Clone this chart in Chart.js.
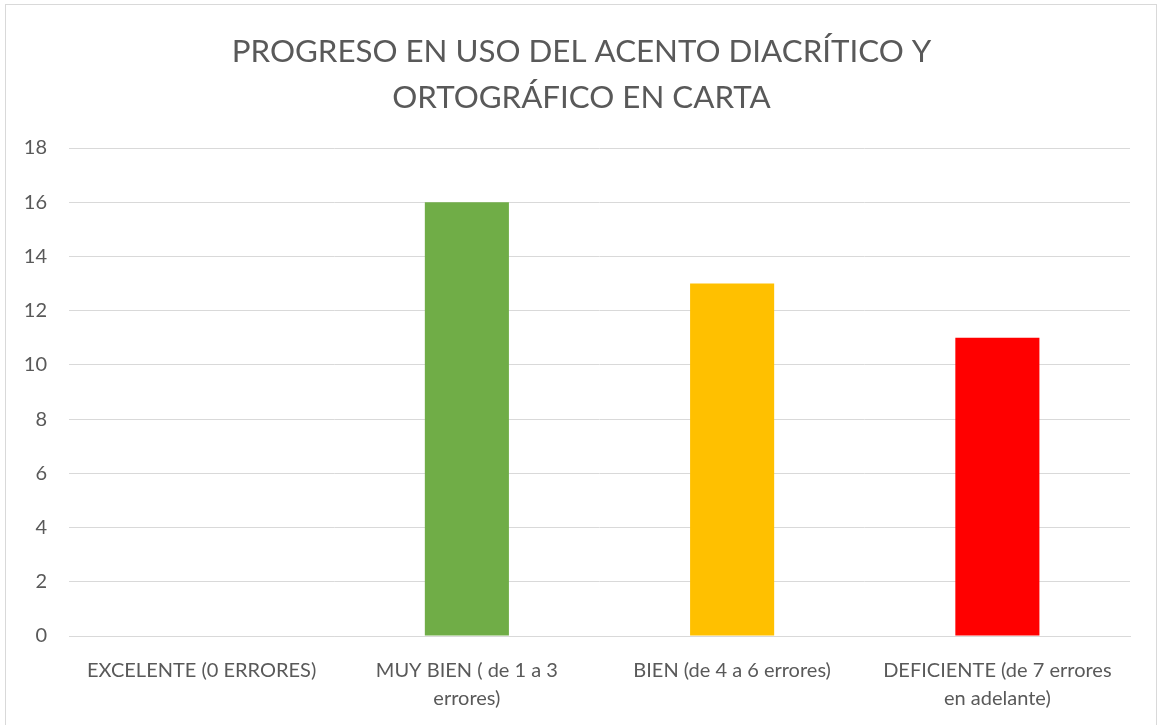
<!DOCTYPE html>
<html>
<head>
<meta charset="utf-8">
<script src="https://cdn.jsdelivr.net/npm/chart.js@4/dist/chart.umd.min.js"></script>
<style>
  html, body { margin: 0; padding: 0; background: #fff; }
  #frame { position: absolute; left: 5px; top: 4px; width: 1150px; height: 730px; border: 1px solid #d9d9d9; }
  #wrap { position: absolute; left: 0; top: 0; width: 1157px; height: 725px; }
</style>
</head>
<body>
<div id="frame"></div>
<div id="wrap"><canvas id="chart"></canvas></div>
<script>
// chart data
const categories = [
  'EXCELENTE (0 ERRORES)',
  ['MUY BIEN ( de 1 a 3', 'errores)'],
  'BIEN (de 4 a 6 errores)',
  ['DEFICIENTE (de 7 errores', 'en adelante)']
];
const values = [0, 16, 13, 11];
const barColors = ['#4472C4', '#70AD47', '#FFC000', '#FF0000'];
const titleLines = ['PROGRESO EN USO DEL ACENTO DIACRÍTICO Y', 'ORTOGRÁFICO EN CARTA'];

const font = "Lato, 'Open Sans', sans-serif";
const grey = '#595959';

// centre the title on the frame, not on the padded box
const centreTitle = {
  id: 'centreTitle',
  afterLayout(chart) {
    if (chart.titleBlock) {
      chart.titleBlock.left = 33;
      chart.titleBlock.width = chart.titleBlock.right - 33;
    }
  }
};

const ctx = document.getElementById('chart').getContext('2d');
new Chart(ctx, {
  type: 'bar',
  data: {
    labels: categories,
    datasets: [{
      data: values,
      backgroundColor: barColors,
      borderWidth: 0,
      barPercentage: 0.317,
      categoryPercentage: 1
    }]
  },
  plugins: [centreTitle],
  options: {
    responsive: true,
    maintainAspectRatio: false,
    animation: false,
    layout: { padding: { left: 0, right: 27, top: 0, bottom: 0 } },
    plugins: {
      legend: { display: false },
      tooltip: { enabled: false },
      title: {
        display: true,
        text: titleLines,
        color: grey,
        font: { family: font, size: 31.3, weight: 'normal', lineHeight: 1.47 },
        padding: { top: 29, bottom: 27 }
      }
    },
    scales: {
      x: {
        grid: { display: false, drawTicks: false },
        border: { color: '#d9d9d9', width: 1 },
        ticks: {
          color: grey,
          font: { family: font, size: 20, lineHeight: 1.4 },
          padding: 21,
          maxRotation: 0,
          autoSkip: false
        },
        afterFit: function(scale) { scale.height = 89; }
      },
      y: {
        min: 0,
        max: 18,
        grid: { color: '#d9d9d9', drawTicks: false },
        border: { display: false },
        ticks: {
          stepSize: 2,
          color: grey,
          font: { family: font, size: 20 },
          padding: 22
        },
        afterFit: function(scale) { scale.width = 69; }
      }
    }
  }
});
</script>
</body>
</html>
